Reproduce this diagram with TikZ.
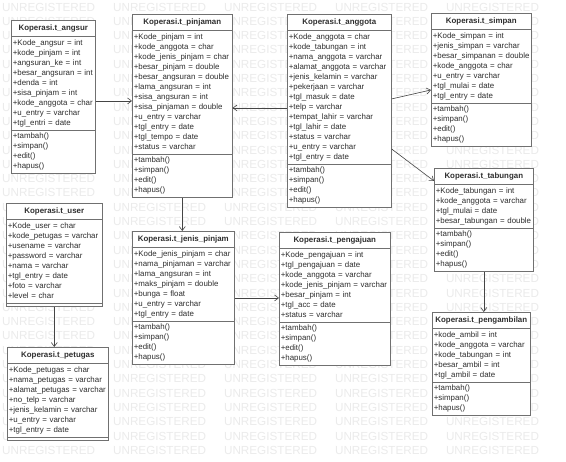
\documentclass[tikz,border=0pt]{standalone}
\usepackage{fontspec}
\setmainfont{Liberation Sans}
\usetikzlibrary{shapes.multipart, arrows.meta}

\newcommand{\classtitle}[1]{\makebox[\hsize][c]{\rule[-4pt]{0pt}{12.5pt}\textbf{#1}}}

\begin{document}
\fontsize{7.9}{10}\selectfont
\begin{tikzpicture}[x=1pt, y=-1pt,
    umlclass/.style={rectangle split, rectangle split parts=3, draw=borderColour,
      fill=white, line width=0.6pt, align=left, inner xsep=1.5pt, inner ysep=1.5pt,
      font=\fontsize{7.9}{10}\selectfont, text=textColour, anchor=north west,
      text width=#1},
    assoc/.style={draw=lineColour, line width=0.6pt,
      -{Straight Barb[length=4pt,width=6pt]}},
    watermark/.style={font=\fontsize{11.7}{12}\selectfont, text=wmColour,
      anchor=west, inner sep=0pt}]
  % Define colours
  \definecolor{borderColour}{HTML}{707070}
  \definecolor{lineColour}{HTML}{454545}
  \definecolor{textColour}{HTML}{2E2E2E}
  \definecolor{wmColour}{HTML}{EBEBEB}

  % Define the watermark line
  \def\wmword{UNREGISTERED\hspace{18pt}}

  \useasboundingbox (0,0) rectangle (566,462);
  \fill[white] (0,0) rectangle (566,462);

  % Draw the watermark rows
  \begin{scope}
    \clip (0,0) rectangle (566,462);
    \foreach \k in {0,...,31}
      \node[watermark] (wm\k) at (2,7+14.3*\k) {\wmword\wmword\wmword\wmword\wmword};
  \end{scope}

  % Top row of classes
  \node[umlclass=81pt] (angsur) at (11,20) {\classtitle{Koperasi.t\_angsur}
    \nodepart{two}\strut+Kode\_angsur = int\\+kode\_pinjam = int\\+angsuran\_ke = int\\
      +besar\_angsuran = int\\+denda = int\\+sisa\_pinjam = int\\+kode\_anggota = char\\
      +u\_entry = varchar\\+tgl\_entri = date\strut
    \nodepart{three}\strut+tambah()\\+simpan()\\+edit()\\+hapus()\strut};

  \node[umlclass=97pt] (pinjaman) at (132,14) {\classtitle{Koperasi.t\_pinjaman}
    \nodepart{two}\strut+Kode\_pinjam = int\\+kode\_anggota = char\\+kode\_jenis\_pinjam = char\\
      +besar\_pinjam = double\\+besar\_angsuran = double\\+lama\_angsuran = int\\
      +sisa\_angsuran = int\\+sisa\_pinjaman = double\\+u\_entry = varchar\\
      +tgl\_entry = date\\+tgl\_tempo = date\\+status = varchar\strut
    \nodepart{three}\strut+tambah()\\+simpan()\\+edit()\\+hapus()\strut};

  \node[umlclass=101pt] (anggota) at (287,14) {\classtitle{Koperasi.t\_anggota}
    \nodepart{two}\strut+Kode\_anggota = char\\+kode\_tabungan = int\\+nama\_anggota = varchar\\
      +alamat\_anggota = varchar\\+jenis\_kelamin = varchar\\+pekerjaan = varchar\\
      +tgl\_masuk = date\\+telp = varchar\\+tempat\_lahir = varchar\\+tgl\_lahir = date\\
      +status = varchar\\+u\_entry = varchar\\+tgl\_entry = date\strut
    \nodepart{three}\strut+tambah()\\+simpan()\\+edit()\\+hapus()\strut};

  \node[umlclass=97pt] (simpan) at (431,13) {\classtitle{Koperasi.t\_simpan}
    \nodepart{two}\strut+Kode\_simpan = int\\+jenis\_simpan = varchar\\+besar\_simpanan = double\\
      +kode\_anggota = char\\+u\_entry = varchar\\+tgl\_mulai = date\\+tgl\_entry = date\strut
    \nodepart{three}\strut+tambah()\\+simpan()\\+edit()\\+hapus()\strut};

  % Right column
  \node[umlclass=96pt] (tabungan) at (434,168) {\classtitle{Koperasi.t\_tabungan}
    \nodepart{two}\strut+Kode\_tabungan = int\\+kode\_anggota = varchar\\+tgl\_mulai = date\\
      +besar\_tabungan = double\strut
    \nodepart{three}\strut+tambah()\\+simpan()\\+edit()\\+hapus()\strut};

  \node[umlclass=95pt] (pengambilan) at (432,312) {\classtitle{Koperasi.t\_pengambilan}
    \nodepart{two}\strut+kode\_ambil = int\\+kode\_anggota = varchar\\+kode\_tabungan = int\\
      +besar\_ambil = int\\+tgl\_ambil = date\strut
    \nodepart{three}\strut+tambah()\\+simpan()\\+hapus()\strut};

  % Left column
  \node[umlclass=93pt] (user) at (6,203) {\classtitle{Koperasi.t\_user}
    \nodepart{two}\strut+Kode\_user = char\\+kode\_petugas = varchar\\+usename = varchar\\
      +password = varchar\\+nama = varchar\\+tgl\_entry = date\\+foto = varchar\\
      +level = char\strut
    \nodepart{three}};

  \node[umlclass=98pt] (petugas) at (7,347) {\classtitle{Koperasi.t\_petugas}
    \nodepart{two}\strut+Kode\_petugas = char\\+nama\_petugas = varchar\\
      +alamat\_petugas = varchar\\+no\_telp = varchar\\+jenis\_kelamin = varchar\\
      +u\_entry = varchar\\+tgl\_entry = date\strut
    \nodepart{three}};

  % Middle row
  \node[umlclass=99pt] (jenis) at (132,231) {\classtitle{Koperasi.t\_jenis\_pinjam}
    \nodepart{two}\strut+Kode\_jenis\_pinjam = char\\+nama\_pinjaman = varchar\\
      +lama\_angsuran = int\\+maks\_pinjam = double\\+bunga = float\\+u\_entry = varchar\\
      +tgl\_entry = date\strut
    \nodepart{three}\strut+tambah()\\+simpan()\\+edit()\\+hapus()\strut};

  \node[umlclass=108pt] (pengajuan) at (279,232) {\classtitle{Koperasi.t\_pengajuan}
    \nodepart{two}\strut+Kode\_pengajuan = int\\+tgl\_pengajuan = date\\+kode\_anggota = varchar\\
      +kode\_jenis\_pinjam = varchar\\+besar\_pinjam = int\\+tgl\_acc = date\\
      +status = varchar\strut
    \nodepart{three}\strut+tambah()\\+simpan()\\+edit()\\+hapus()\strut};

  % Associations
  \draw[assoc] ([yshift=-4pt]angsur.east) -- ([yshift=-4pt]angsur.east -| pinjaman.west);
  \draw[assoc] ([yshift=3pt]anggota.west) -- ([yshift=3pt]anggota.west -| pinjaman.east);
  \draw[assoc] ([yshift=12pt]anggota.east) -- ([yshift=-10pt]simpan.west);
  \draw[assoc] ([yshift=-38pt]anggota.east) -- ([yshift=39pt]tabungan.west);
  \draw[assoc] (pinjaman.south) -- (pinjaman.south |- jenis.north);
  \draw[assoc] (jenis.east) -- (jenis.east -| pengajuan.west);
  \draw[assoc] (user.south) -- (user.south |- petugas.north);
  \draw[assoc] (tabungan.south) -- (tabungan.south |- pengambilan.north);

\end{tikzpicture}
\end{document}
